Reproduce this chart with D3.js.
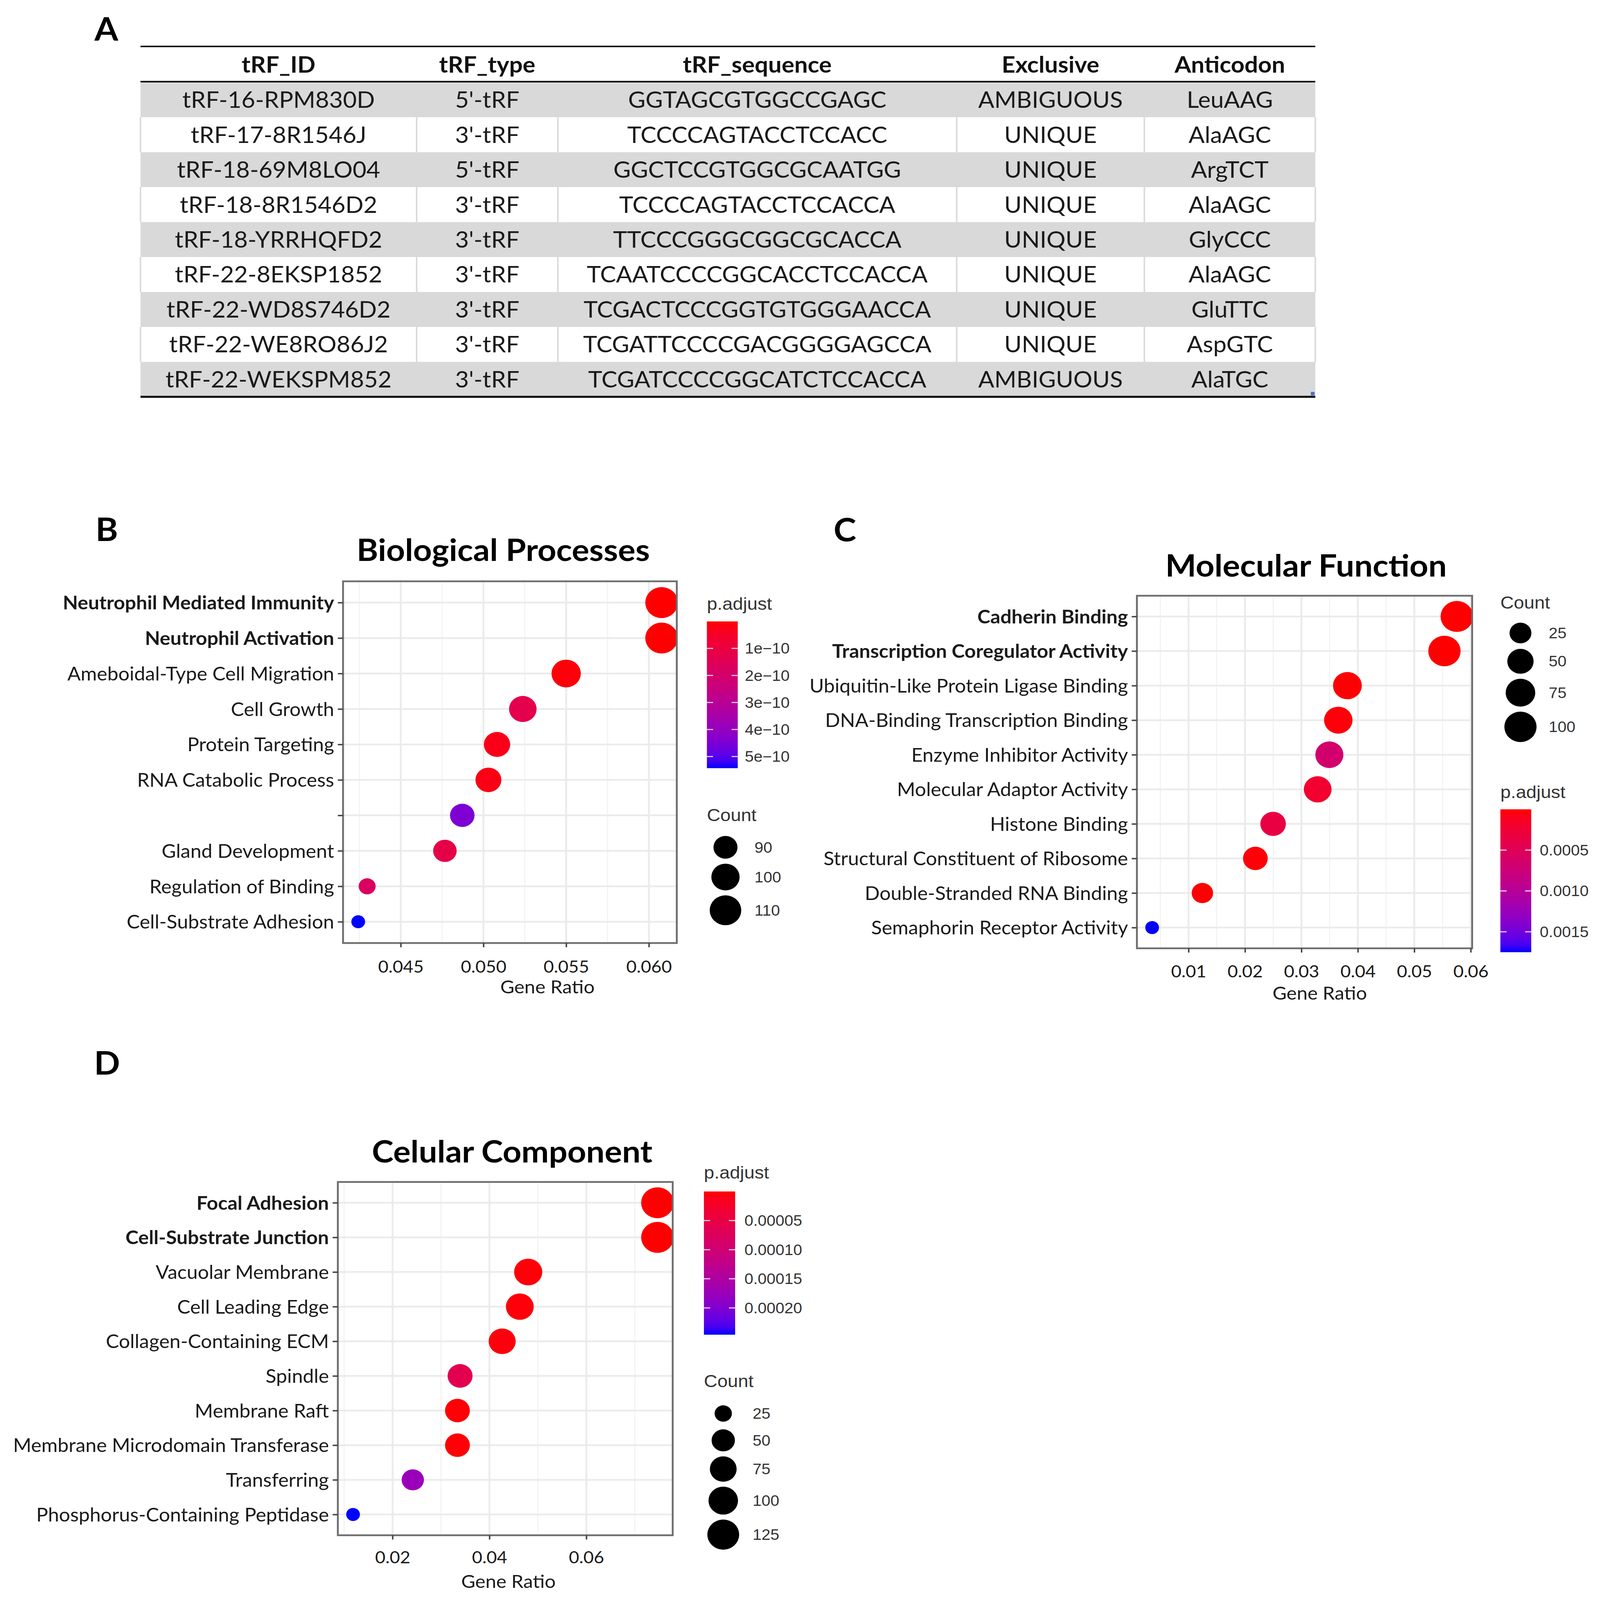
<!DOCTYPE html>
<html><head><meta charset="utf-8">
<script src="https://cdn.jsdelivr.net/npm/d3@7"></script>
<style>html,body{margin:0;padding:0;background:#fff;overflow:hidden} svg{display:block}</style>
</head><body>
<svg id="c" viewBox="0 0 4305 4547" preserveAspectRatio="none"></svg>
<script>
// ---------------- DATA ----------------
const tableColumns = ["tRF_ID","tRF_type","tRF_sequence","Exclusive","Anticodon"];
const tRF_ID = ["tRF-16-RPM830D","tRF-17-8R1546J","tRF-18-69M8LO04","tRF-18-8R1546D2","tRF-18-YRRHQFD2","tRF-22-8EKSP1852","tRF-22-WD8S746D2","tRF-22-WE8RO86J2","tRF-22-WEKSPM852"];
const tRF_type = ["5'-tRF","3'-tRF","5'-tRF","3'-tRF","3'-tRF","3'-tRF","3'-tRF","3'-tRF","3'-tRF"];
const tRF_sequence = ["GGTAGCGTGGCCGAGC","TCCCCAGTACCTCCACC","GGCTCCGTGGCGCAATGG","TCCCCAGTACCTCCACCA","TTCCCGGGCGGCGCACCA","TCAATCCCCGGCACCTCCACCA","TCGACTCCCGGTGTGGGAACCA","TCGATTCCCCGACGGGGAGCCA","TCGATCCCCGGCATCTCCACCA"];
const exclusive = ["AMBIGUOUS","UNIQUE","UNIQUE","UNIQUE","UNIQUE","UNIQUE","UNIQUE","UNIQUE","AMBIGUOUS"];
const anticodon = ["LeuAAG","AlaAGC","ArgTCT","AlaAGC","GlyCCC","AlaAGC","GluTTC","AspGTC","AlaTGC"];

// B - Biological Processes
const bpTerms = ["Neutrophil Mediated Immunity","Neutrophil Activation","Ameboidal-Type Cell Migration","Cell Growth","Protein Targeting","RNA Catabolic Process","","Gland Development","Regulation of Binding","Cell-Substrate Adhesion"];
const bpGeneRatio = [0.06077,0.06077,0.0550,0.05238,0.05082,0.05030,0.04872,0.04767,0.04297,0.04243];
const bpCount = [114,114,103,98,95,94,91,89,81,80];
const bpPAdjust = [1e-13,2e-13,8e-12,1.3e-10,2.5e-11,2e-11,4.45e-10,1.2e-10,1.75e-10,5.43e-10];
const bpXTicks = [0.045,0.050,0.055,0.060];
const bpXTickLabels = ["0.045","0.050","0.055","0.060"];
const bpXMinor = [0.0425,0.0475,0.0525,0.0575];
const bpColorTicks = [1e-10,2e-10,3e-10,4e-10,5e-10];
const bpColorTickLabels = ["1e\u221210","2e\u221210","3e\u221210","4e\u221210","5e\u221210"];
const bpSizeBreaks = [90,100,110];

// C - Molecular Function
const mfTerms = ["Cadherin Binding","Transcription Coregulator Activity","Ubiquitin-Like Protein Ligase Binding","DNA-Binding Transcription Binding","Enzyme Inhibitor Activity","Molecular Adaptor Activity","Histone Binding","Structural Constituent of Ribosome","Double-Stranded RNA Binding","Semaphorin Receptor Activity"];
const mfGeneRatio = [0.05755,0.05534,0.03815,0.03653,0.03495,0.03288,0.02498,0.02184,0.01245,0.00355];
const mfCount = [105,101,69,66,63,60,45,40,23,7];
const mfPAdjust = [1e-6,2e-6,1e-5,3e-5,6.7e-4,2.1e-4,3.5e-4,2e-5,1e-5,1.75e-3];
const mfXTicks = [0.01,0.02,0.03,0.04,0.05,0.06];
const mfXTickLabels = ["0.01","0.02","0.03","0.04","0.05","0.06"];
const mfXMinor = [0.005,0.015,0.025,0.035,0.045,0.055];
const mfColorTicks = [0.0005,0.0010,0.0015];
const mfColorTickLabels = ["0.0005","0.0010","0.0015"];
const mfSizeBreaks = [25,50,75,100];

// D - Celular Component
const ccTerms = ["Focal Adhesion","Cell-Substrate Junction","Vacuolar Membrane","Cell Leading Edge","Collagen-Containing ECM","Spindle","Membrane Raft","Membrane Microdomain Transferase","Transferring","Phosphorus-Containing Peptidase"];
const ccGeneRatio = [0.07469,0.07469,0.0480,0.04627,0.04263,0.03394,0.0334,0.0334,0.02418,0.01185];
const ccCount = [135,135,87,84,77,61,60,60,44,21];
const ccPAdjust = [1e-8,2e-8,3e-6,4e-6,5e-6,6.2e-5,2e-6,2e-6,1.75e-4,2.46e-4];
const ccXTicks = [0.02,0.04,0.06];
const ccXTickLabels = ["0.02","0.04","0.06"];
const ccXMinor = [0.01,0.03,0.05,0.07];
const ccColorTicks = [0.00005,0.00010,0.00015,0.00020];
const ccColorTickLabels = ["0.00005","0.00010","0.00015","0.00020"];
const ccSizeBreaks = [25,50,75,100,125];

// ---------------- DRAW ----------------
const svg = d3.select("#c")
  .attr("width", window.innerWidth || 4305)
  .attr("height", window.innerHeight || 4547);
const defs = svg.append("defs");
svg.append("rect").attr("width",4305).attr("height",4547).attr("fill","#fff");

const LATO = "Lato, 'Open Sans', sans-serif";
const LEG = "'Liberation Sans', Arial, sans-serif";

function letter(t, x, y){
  svg.append("text").attr("x",x).attr("y",y).attr("font-family",LATO).attr("font-weight","bold")
    .attr("font-size",92).attr("fill","#000").text(t);
}

// ---- Table A ----
(function(){
  const cols = [378,1121,1501,2574,3079,3539];
  const rows = tRF_ID.map((d,i)=>[tRF_ID[i],tRF_type[i],tRF_sequence[i],exclusive[i],anticodon[i]]);
  const ry = d3.scaleBand().domain(d3.range(rows.length)).range([234, 234 + 99.3*rows.length]);
  const cx = i => (cols[i]+cols[i+1])/2;
  const g = svg.append("g");
  g.selectAll("rect.row").data(rows).join("rect")
    .attr("x",cols[0]).attr("width",cols[5]-cols[0])
    .attr("y",(d,i)=>ry(i)).attr("height",ry.bandwidth())
    .attr("fill",(d,i)=> i%2===0 ? "#d9d9d9" : "#ffffff");
  rows.forEach((r,i)=>{
    if(i%2===1){
      cols.forEach(c=>{
        g.append("line").attr("x1",c).attr("x2",c).attr("y1",ry(i)).attr("y2",ry(i)+ry.bandwidth())
          .attr("stroke","#d9d9d9").attr("stroke-width",4);
      });
    }
  });
  g.selectAll("text.h").data(tableColumns).join("text")
    .attr("x",(d,i)=>cx(i)).attr("y",207).attr("text-anchor","middle")
    .attr("font-family",LATO).attr("font-weight","bold").attr("font-size",64).attr("fill","#111").text(d=>d);
  rows.forEach((r,i)=>{
    g.selectAll(null).data(r).join("text")
      .attr("x",(d,j)=>cx(j)).attr("y",ry(i)+ry.bandwidth()/2+23).attr("text-anchor","middle")
      .attr("font-family",LATO).attr("font-size",64).attr("fill","#1a1a1a").text(d=>d);
  });
  g.append("line").attr("x1",cols[0]).attr("x2",cols[5]).attr("y1",132).attr("y2",132).attr("stroke","#000").attr("stroke-width",4);
  g.append("line").attr("x1",cols[0]).attr("x2",cols[5]).attr("y1",232).attr("y2",232).attr("stroke","#000").attr("stroke-width",4.5);
  const yb = 234 + 99.3*rows.length;
  g.append("line").attr("x1",cols[0]).attr("x2",cols[5]).attr("y1",yb).attr("y2",yb).attr("stroke","#111").attr("stroke-width",6);
  g.append("rect").attr("x",3527).attr("y",yb-14).attr("width",10).attr("height",10).attr("fill","#4472c4");
})();
letter("A",254,115);

// ---- Dot panels ----
function drawPanel(o){
  const F = o.frame;
  const g = svg.append("g");
  const ext = d3.extent(o.ratio), pad = (ext[1]-ext[0])*0.05;
  const x = d3.scaleLinear().domain([ext[0]-pad, ext[1]+pad]).range([F.x0, F.x1]);
  const y = d3.scalePoint().domain(o.terms).range([F.y0, F.y1]).padding(0.6);
  const norm = d3.scaleLinear().domain(d3.extent(o.count)).range([0,1]);
  const diam = d3.scaleSqrt().domain([0,1]).range([37,88]);
  const pExt = d3.extent(o.padj);
  const color = d3.scaleLinear().domain(pExt).range(["#ff0000","#0000ff"]).interpolate(d3.interpolateLab);

  g.append("text").attr("x",o.titleX).attr("y",o.titleY).attr("text-anchor","middle")
    .attr("font-family",LATO).attr("font-weight","bold").attr("font-size",88).attr("fill","#000").text(o.title);

  g.append("g").selectAll("line").data(o.xMinor).join("line")
    .attr("x1",d=>x(d)).attr("x2",d=>x(d)).attr("y1",F.y0).attr("y2",F.y1)
    .attr("stroke","#f3f3f3").attr("stroke-width",3);
  g.append("g").selectAll("line").data(o.xTicks).join("line")
    .attr("x1",d=>x(d)).attr("x2",d=>x(d)).attr("y1",F.y0).attr("y2",F.y1)
    .attr("stroke","#ebebeb").attr("stroke-width",5);
  g.append("g").selectAll("line").data(o.terms).join("line")
    .attr("x1",F.x0).attr("x2",F.x1).attr("y1",d=>y(d)).attr("y2",d=>y(d))
    .attr("stroke","#ebebeb").attr("stroke-width",5);

  const cid = "clip-"+o.id;
  defs.append("clipPath").attr("id",cid).append("rect")
    .attr("x",F.x0).attr("y",F.y0).attr("width",F.x1-F.x0).attr("height",F.y1-F.y0);
  g.append("g").attr("clip-path",`url(#${cid})`)
    .selectAll("circle").data(d3.range(o.terms.length)).join("circle")
    .attr("cx",i=>x(o.ratio[i])).attr("cy",i=>y(o.terms[i]))
    .attr("r",i=>diam(norm(o.count[i]))/2).attr("fill",i=>color(o.padj[i]));

  g.append("rect").attr("x",F.x0).attr("y",F.y0).attr("width",F.x1-F.x0).attr("height",F.y1-F.y0)
    .attr("fill","none").attr("stroke","#6e6e6e").attr("stroke-width",5);

  const xa = g.append("g").attr("transform",`translate(0,${F.y1})`)
    .call(d3.axisBottom(x).tickValues(o.xTicks).tickFormat((d,i)=>o.xTickLabels[i]).tickSize(12).tickPadding(o.xPad));
  xa.select(".domain").remove();
  xa.selectAll(".tick line").attr("stroke","#444").attr("stroke-width",4);
  xa.selectAll(".tick text").attr("font-family",LATO).attr("font-size",48).attr("fill","#1a1a1a");
  g.append("text").attr("x",o.xTitleX).attr("y",o.xTitleY).attr("text-anchor","middle")
    .attr("font-family",LATO).attr("font-size",52).attr("fill","#1a1a1a").text("Gene Ratio");

  const ya = g.append("g").attr("transform",`translate(${F.x0},0)`)
    .call(d3.axisLeft(y).tickSize(14).tickPadding(10));
  ya.select(".domain").remove();
  ya.selectAll(".tick line").attr("stroke","#444").attr("stroke-width",4);
  ya.selectAll(".tick text").attr("font-family",LATO).attr("font-size",53).attr("fill","#1a1a1a")
    .attr("dy","0.36em").attr("font-weight",(d,i)=> i<2 ? "bold" : "normal");

  const C = o.cbar;
  const gid = "grad-"+o.id;
  const grad = defs.append("linearGradient").attr("id",gid).attr("x1",0).attr("y1",0).attr("x2",0).attr("y2",1);
  grad.selectAll("stop").data(d3.range(0,21)).join("stop")
    .attr("offset",d=>d/20).attr("stop-color",d=>color(pExt[0]+(pExt[1]-pExt[0])*d/20));
  const cy = d3.scaleLinear().domain(pExt).range([C.y0, C.y1]);
  const lg = svg.append("g");
  lg.append("text").attr("x",C.x0).attr("y",C.titleY).attr("font-family",LEG).attr("font-size",50)
    .attr("fill","#333").text("p.adjust");
  lg.append("rect").attr("x",C.x0).attr("y",C.y0).attr("width",C.x1-C.x0).attr("height",C.y1-C.y0)
    .attr("fill",`url(#${gid})`);
  const bw = C.x1-C.x0;
  lg.append("g").selectAll("line").data(o.cTicks).join("line")
    .attr("x1",C.x0).attr("x2",C.x0+bw/5).attr("y1",d=>cy(d)).attr("y2",d=>cy(d))
    .attr("stroke","#fff").attr("stroke-width",3).attr("opacity",0.85);
  lg.append("g").selectAll("line").data(o.cTicks).join("line")
    .attr("x1",C.x1-bw/5).attr("x2",C.x1).attr("y1",d=>cy(d)).attr("y2",d=>cy(d))
    .attr("stroke","#fff").attr("stroke-width",3).attr("opacity",0.85);
  lg.append("g").selectAll("text").data(o.cTicks).join("text")
    .attr("x",C.labelX).attr("y",d=>cy(d)+15).attr("font-family",LEG).attr("font-size",43)
    .attr("fill","#333").text((d,i)=>o.cTickLabels[i]);

  const S = o.sizeLeg;
  lg.append("text").attr("x",S.titleX).attr("y",S.titleY).attr("font-family",LEG).attr("font-size",50)
    .attr("fill","#333").text("Count");
  const ds = o.sizeBreaks.map(b=>diam(norm(b)));
  const ys = [];
  ds.forEach((d,i)=>{
    if(i===0) ys.push(S.y0);
    else ys.push(ys[i-1] + (Math.max(ds[i-1],62)+Math.max(d,62))/2 + 14);
  });
  lg.append("g").selectAll("circle").data(o.sizeBreaks).join("circle")
    .attr("cx",S.cx).attr("cy",(d,i)=>ys[i]).attr("r",(d,i)=>ds[i]/2).attr("fill","#000");
  lg.append("g").selectAll("text").data(o.sizeBreaks).join("text")
    .attr("x",S.labelX).attr("y",(d,i)=>ys[i]+15).attr("font-family",LEG).attr("font-size",43)
    .attr("fill","#333").text(d=>d);
}

letter("B",257,1537);
drawPanel({
  id:"bp", title:"Biological Processes", titleX:1354, titleY:1594,
  terms:bpTerms, ratio:bpGeneRatio, count:bpCount, padj:bpPAdjust,
  xTicks:bpXTicks, xTickLabels:bpXTickLabels, xMinor:bpXMinor, xPad:38,
  frame:{x0:923,x1:1821,y0:1652,y1:2680},
  xTitleX:1473, xTitleY:2823,
  cTicks:bpColorTicks, cTickLabels:bpColorTickLabels,
  cbar:{x0:1902,x1:1985,y0:1766,y1:2183,titleY:1733,labelX:2004},
  sizeBreaks:bpSizeBreaks,
  sizeLeg:{titleX:1902,titleY:2334,cx:1952,y0:2408,labelX:2030}
});

letter("C",2243,1539);
drawPanel({
  id:"mf", title:"Molecular Function", titleX:3514, titleY:1639,
  terms:mfTerms, ratio:mfGeneRatio, count:mfCount, padj:mfPAdjust,
  xTicks:mfXTicks, xTickLabels:mfXTickLabels, xMinor:mfXMinor, xPad:36,
  frame:{x0:3059,x1:3961,y0:1693,y1:2695},
  xTitleX:3551, xTitleY:2841,
  cTicks:mfColorTicks, cTickLabels:mfColorTickLabels,
  cbar:{x0:4037,x1:4120,y0:2300,y1:2706,titleY:2268,labelX:4143},
  sizeBreaks:mfSizeBreaks,
  sizeLeg:{titleX:4037,titleY:1729,cx:4091,y0:1799,labelX:4167}
});

letter("D",253,3054);
drawPanel({
  id:"cc", title:"Celular Component", titleX:1378, titleY:3304,
  terms:ccTerms, ratio:ccGeneRatio, count:ccCount, padj:ccPAdjust,
  xTicks:ccXTicks, xTickLabels:ccXTickLabels, xMinor:ccXMinor, xPad:34,
  frame:{x0:909,x1:1810,y0:3359,y1:4363},
  xTitleX:1368, xTitleY:4513,
  cTicks:ccColorTicks, cTickLabels:ccColorTickLabels,
  cbar:{x0:1894,x1:1978,y0:3386,y1:3793,titleY:3349,labelX:2003},
  sizeBreaks:ccSizeBreaks,
  sizeLeg:{titleX:1894,titleY:3942,cx:1946,y0:4017,labelX:2025}
});
</script>
</body></html>
